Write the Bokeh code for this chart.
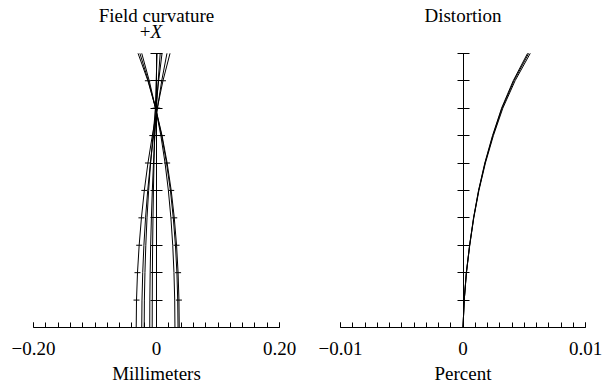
from bokeh.plotting import figure
from bokeh.models import Range1d, LinearAxis, FixedTicker
from bokeh.layouts import row
from bokeh.embed import file_html
from bokeh.resources import INLINE
from bokeh.core.properties import value

FONT = "Liberation Serif"

# ---- data ----
field = [0.0, 0.1, 0.2, 0.3, 0.4, 0.5, 0.6, 0.7, 0.8, 0.9, 1.0]

# field curvature (mm)
fc_a1 = [-0.033, -0.0325, -0.0309, -0.0282, -0.0245, -0.0198, -0.0139, -0.0068, 0.0012, 0.0105, 0.0220]
fc_a2 = [-0.024, -0.0236, -0.0224, -0.0205, -0.0178, -0.0143, -0.0099, -0.0046, 0.0016, 0.0085, 0.0170]
fc_a3 = [-0.020, -0.0197, -0.0188, -0.0174, -0.0154, -0.0128, -0.0096, -0.0058, -0.0014, 0.0035, 0.0090]
fc_a4 = [-0.011, -0.0108, -0.0103, -0.0095, -0.0083, -0.0068, -0.0049, -0.0027, -0.0001, 0.0028, 0.0060]
fc_a5 = [-0.007, -0.0069, -0.0067, -0.0063, -0.0057, -0.0050, -0.0041, -0.0031, -0.0019, -0.0005, 0.0010]
fc_b1 = [0.037, 0.0365, 0.0351, 0.0326, 0.0289, 0.0239, 0.0173, 0.0090, -0.0014, -0.0140, -0.0300]
fc_b2 = [0.035, 0.0345, 0.0332, 0.0308, 0.0273, 0.0226, 0.0163, 0.0084, -0.0015, -0.0133, -0.0270]
fc_b3 = [0.030, 0.0296, 0.0284, 0.0264, 0.0234, 0.0193, 0.0139, 0.0071, -0.0015, -0.0118, -0.0240]
fc_curves = [fc_a1, fc_a2, fc_a3, fc_a4, fc_a5, fc_b1, fc_b2, fc_b3]

# distortion (percent)
dist_1 = [0.0, 0.00010, 0.00028, 0.00055, 0.00088, 0.00130, 0.00183, 0.00248, 0.00325, 0.00425, 0.00549]
dist_2 = [0.0, 0.00010, 0.00028, 0.00054, 0.00087, 0.00128, 0.00180, 0.00244, 0.00319, 0.00416, 0.00536]
dist_3 = [0.0, 0.00010, 0.00027, 0.00054, 0.00086, 0.00127, 0.00178, 0.00241, 0.00315, 0.00410, 0.00527]
dist_curves = [dist_1, dist_2, dist_3]

fc_ticks = [round(-0.20 + 0.02 * k, 2) for k in range(21)]
fc_labels = {-0.2: "\u22120.20", 0: "0\nMillimeters", 0.2: "0.20"}
dist_ticks = [round(-0.010 + 0.001 * k, 3) for k in range(21)]
dist_labels = {-0.01: "\u22120.01", 0: "0\nPercent", 0.01: "0.01"}

H = 386
BOTTOM = 58
UNIT = 275.0
YMAX = (H - BOTTOM) / UNIT


def panel(width, bl, br, xr, ticks, labels):
    p = figure(width=width, height=H, x_range=Range1d(*xr), y_range=Range1d(0, YMAX),
               output_backend="svg", toolbar_location=None, y_axis_location=None,
               min_border_left=bl, min_border_right=br, min_border_top=0,
               min_border_bottom=BOTTOM)
    p.outline_line_color = None
    p.xgrid.visible = False
    p.ygrid.visible = False
    p.background_fill_color = "white"
    p.border_fill_color = "white"
    ax = p.xaxis[0]
    ax.ticker = FixedTicker(ticks=[xr[0], 0, xr[1]], minor_ticks=ticks)
    ax.major_label_overrides = labels
    ax.axis_line_color = "black"
    ax.axis_line_width = 1
    ax.major_tick_line_color = "black"
    ax.minor_tick_line_color = "black"
    ax.major_tick_in = 5
    ax.major_tick_out = 0
    ax.minor_tick_in = 5
    ax.minor_tick_out = 0
    ax.major_label_standoff = 10
    ax.major_label_text_font = FONT
    ax.major_label_text_font_size = "19px"
    ax.major_label_text_color = "black"
    ax.major_label_text_line_height = 1.2

    yax = LinearAxis(fixed_location=0, bounds=(0, 1),
                     ticker=FixedTicker(ticks=field, minor_ticks=[]))
    yax.major_tick_in = 6
    yax.major_tick_out = 6
    yax.major_tick_line_color = "black"
    yax.minor_tick_line_color = None
    yax.axis_line_color = "black"
    yax.major_label_text_color = None
    yax.major_label_text_font_size = "8px"
    yax.major_label_standoff = 0
    p.add_layout(yax, "left")
    return p


p1 = panel(306, 33, 27, (-0.2, 0.2), fc_ticks, fc_labels)
for c in fc_curves:
    p1.line(c, field, line_color="black", line_width=1)
p1.scatter(fc_a1[1:10], field[1:10], marker="dash", size=6, line_color="black")
p1.scatter(fc_b1[1:10], field[1:10], marker="dash", size=6, line_color="black")
p1.text(x=[0], y=[1.1382], text=["Field curvature"], text_font=value(FONT),
        text_font_size="19px", text_align="center", text_baseline="alphabetic",
        text_color="black")
p1.text(x=[0], y=[1.08], text=["+"], text_font=value(FONT), text_font_size="19px",
        text_align="right", text_baseline="alphabetic", x_offset=-6, text_color="black")
p1.text(x=[0], y=[1.08], text=["X"], text_font=value(FONT), text_font_size="19px",
        text_font_style="italic", text_align="left", text_baseline="alphabetic",
        x_offset=-6, text_color="black")

p2 = panel(302, 34, 23, (-0.01, 0.01), dist_ticks, dist_labels)
for c in dist_curves:
    p2.line(c, field, line_color="black", line_width=1)
p2.text(x=[0], y=[1.1382], text=["Distortion"], text_font=value(FONT),
        text_font_size="19px", text_align="center", text_baseline="alphabetic",
        text_color="black")

layout = row(p1, p2)

open("out.html", "w").write(file_html(layout, INLINE))
